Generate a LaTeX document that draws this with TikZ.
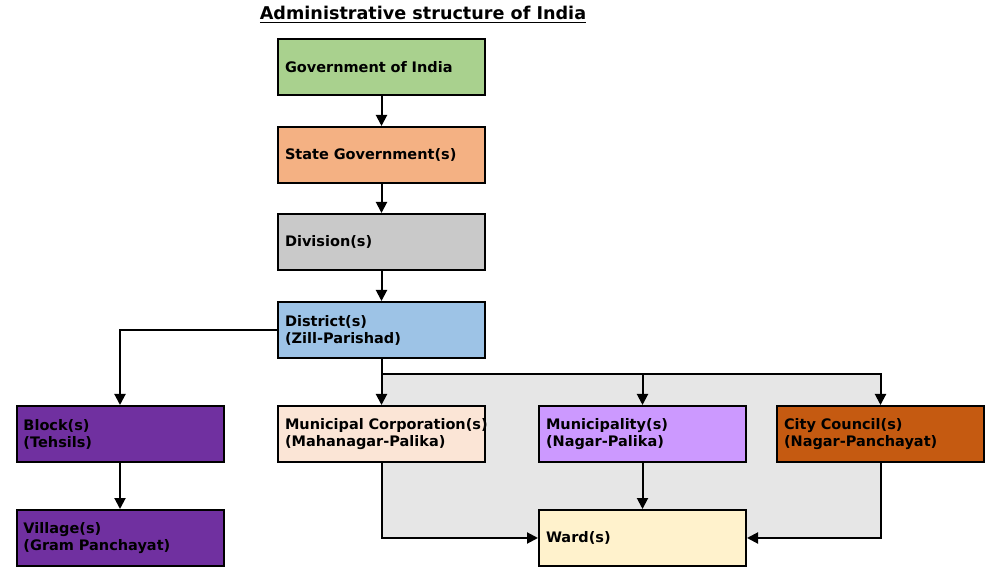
\documentclass[tikz,border=0pt]{standalone}
\usepackage{fontspec}
\setmainfont{DejaVu Sans}
\usetikzlibrary{arrows.meta}
\definecolor{govgreen}{HTML}{A9D18E}
\definecolor{stateorange}{HTML}{F4B183}
\definecolor{divgray}{HTML}{C9C9C9}
\definecolor{distblue}{HTML}{9DC3E6}
\definecolor{ruralpurple}{HTML}{7030A0}
\definecolor{corppeach}{HTML}{FBE5D6}
\definecolor{munililac}{HTML}{CC99FF}
\definecolor{councilrust}{HTML}{C55A11}
\definecolor{wardcream}{HTML}{FFF2CC}
\definecolor{urbangray}{HTML}{E6E6E6}

\begin{document}
\begin{tikzpicture}[x=0.5pt, y=-0.5pt,
  unit/.style={draw=black, line width=1pt, text width=96.5pt, inner sep=3.5pt,
    minimum height=28pt, align=left,
    font=\fontsize{7.25}{8.5}\selectfont\bfseries},
  link/.style={line width=1pt, -{Triangle[length=5.5pt,width=5.5pt]}}]

\useasboundingbox (0,0) rectangle (1001,582);

\node[font=\fontsize{8.8}{10}\selectfont\bfseries] (title) at (423,14.5)
  {\underline{Administrative structure of India}};

% urban area
\fill[urbangray] (381.5,374) rectangle (880.5,538);

\node[unit, fill=govgreen] (gov) at (381.5,67) {Government of India};
\node[unit, fill=stateorange] (state) at (381.5,155) {State Government(s)};
\node[unit, fill=divgray] (division) at (381.5,242) {Division(s)};
\node[unit, fill=distblue] (district) at (381.5,330) {District(s)\\(Zill-Parishad)};

\node[unit, fill=ruralpurple] (block) at (120,434) {Block(s)\\(Tehsils)};
\node[unit, fill=ruralpurple] (village) at (120,538) {Village(s)\\(Gram Panchayat)};

\node[unit, fill=corppeach] (corp) at (381.5,434) {\mbox{Municipal Corporation(s)}\\(Mahanagar-Palika)};
\node[unit, fill=munililac] (muni) at (642.5,434) {Municipality(s)\\(Nagar-Palika)};
\node[unit, fill=councilrust] (council) at (880.5,434) {City Council(s)\\(Nagar-Panchayat)};
\node[unit, fill=wardcream] (ward) at (642.5,538) {Ward(s)};

\coordinate (split) at (381.5,374);

\draw[link] (gov) -- (state);
\draw[link] (state) -- (division);
\draw[link] (division) -- (district);
\draw[link] (district.west) -| (block.north);
\draw[link] (block) -- (village);
\draw[link] (district) -- (corp);
\draw[link] (split) -| (muni.north);
\draw[link] (split) -| (council.north);
\draw[link] (corp.south) |- (ward.west);
\draw[link] (muni) -- (ward);
\draw[link] (council.south) |- (ward.east);

\end{tikzpicture}
\end{document}
